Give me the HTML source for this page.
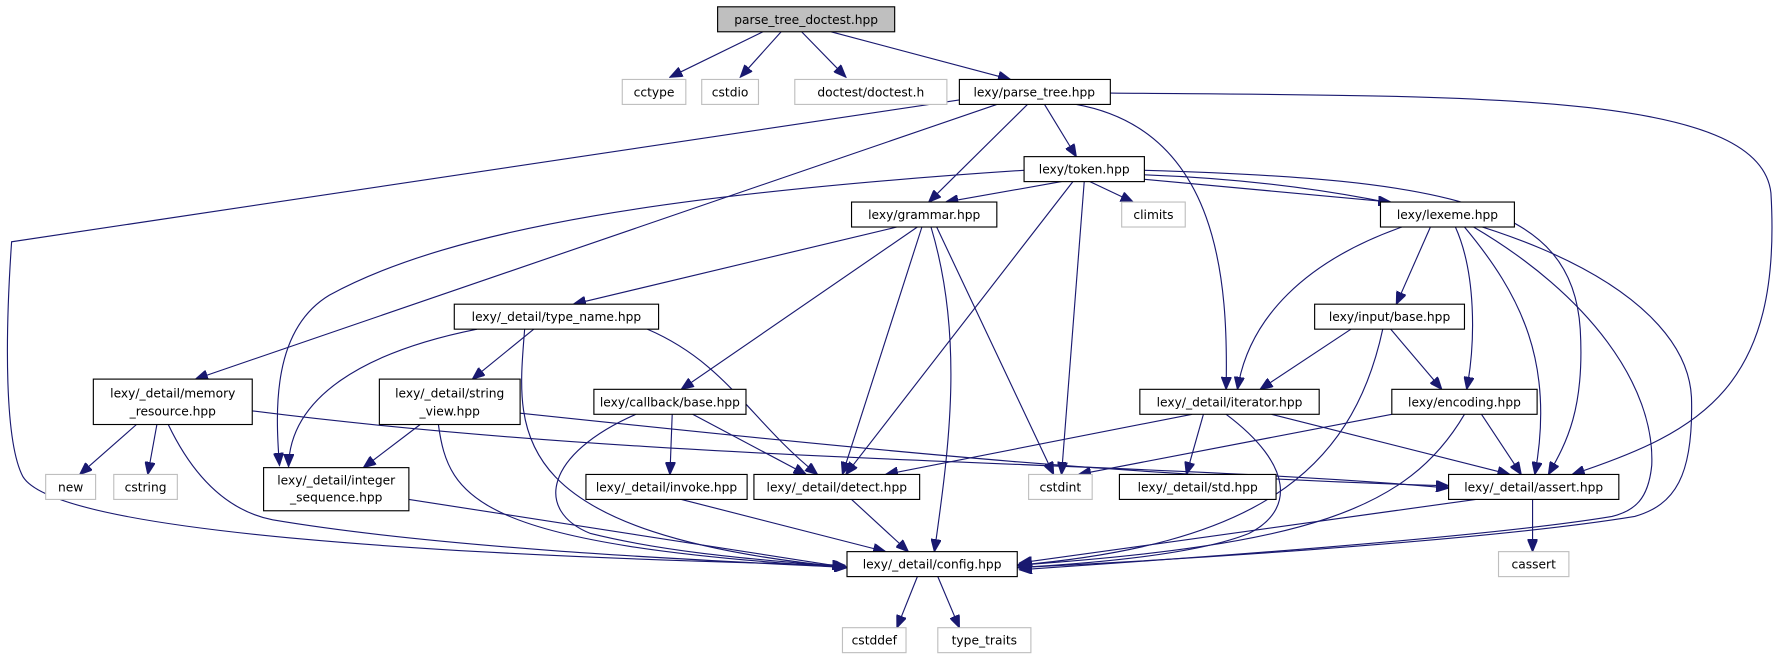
<!DOCTYPE html>
<html><head><meta charset="utf-8"><style>
html,body{margin:0;padding:0;background:#fff;}
svg{display:block;}
text{font-family:"DejaVu Sans","Liberation Sans",sans-serif;font-size:10.8px;fill:#000;text-anchor:middle;}
.n{fill:#fff;stroke:#000;stroke-width:1;}
.g{fill:#fff;stroke:#bfbfbf;stroke-width:1;}
.e{fill:none;stroke:#191970;stroke-width:1;}
</style></head><body>
<svg width="1778" height="664" viewBox="0 0 1566 585" xmlns="http://www.w3.org/2000/svg">
<defs><marker id="a" markerUnits="userSpaceOnUse" markerWidth="12" markerHeight="9" refX="11" refY="4.5" orient="auto"><path d="M0,0 L11,4.5 L0,9 z" fill="#191970" stroke="#191970"/></marker></defs>
<g class="e" marker-end="url(#a)">
<path d="M672,28 L590,68"/>
<path d="M688,28 L652,68"/>
<path d="M706,28 L745,68"/>
<path d="M732,28 L890,70"/>
<path d="M878,92 L172,334"/>
<path d="M845,88 L10,213 C4,300 4,390 20,420 C50,470 400,490 744,498"/>
<path d="M905,92 L818,178"/>
<path d="M920,92 L948,138"/>
<path d="M948,92 C1075,115 1082,250 1080,343"/>
<path d="M978,82 C1300,85 1550,80 1560,170 C1570,340 1500,380 1385,418"/>
<path d="M935,160 L833,178"/>
<path d="M902,150 C600,170 400,200 290,260 C240,290 242,360 246,410"/>
<path d="M945,160 L745,418"/>
<path d="M955,160 L935,418"/>
<path d="M960,160 L998,178"/>
<path d="M1008,158 L1225,178"/>
<path d="M1008,150 C1280,158 1385,180 1392,290 C1396,360 1380,390 1364,418"/>
<path d="M1008,154 C1300,165 1485,250 1490,350 C1492,420 1475,445 1440,455 C1300,478 1000,495 898,500"/>
<path d="M790,200 L505,268"/>
<path d="M808,200 L600,343"/>
<path d="M812,200 L742,418"/>
<path d="M820,200 C850,300 835,400 823,486"/>
<path d="M825,200 L928,418"/>
<path d="M420,290 C320,310 255,350 254,411"/>
<path d="M470,290 L416,334"/>
<path d="M462,290 C455,380 440,470 746,500"/>
<path d="M570,290 C640,320 660,370 720,418"/>
<path d="M120,374 L70,418"/>
<path d="M138,374 L130,418"/>
<path d="M148,374 C170,420 200,450 240,458 C400,485 650,495 746,500"/>
<path d="M222,362 C600,410 1000,405 1276,430"/>
<path d="M370,374 L320,412"/>
<path d="M386,374 C395,440 420,480 746,500"/>
<path d="M458,364 C800,400 1000,420 1276,428"/>
<path d="M592,365 L590,418"/>
<path d="M610,365 L710,418"/>
<path d="M560,365 C480,400 470,450 520,470 C600,490 700,495 746,500"/>
<path d="M360,440 L746,500"/>
<path d="M600,440 L780,486"/>
<path d="M750,440 L800,486"/>
<path d="M1050,365 L780,418"/>
<path d="M1060,365 L1045,418"/>
<path d="M1080,365 C1140,410 1140,450 1100,470 C1050,490 950,497 896,500"/>
<path d="M1120,365 L1330,418"/>
<path d="M1190,290 L1110,343"/>
<path d="M1225,290 L1270,343"/>
<path d="M1218,290 C1190,420 1100,480 896,498"/>
<path d="M1260,200 L1230,268"/>
<path d="M1235,200 C1150,230 1100,280 1090,343"/>
<path d="M1282,200 C1300,240 1300,300 1292,343"/>
<path d="M1290,200 C1340,260 1370,320 1352,418"/>
<path d="M1298,200 C1400,260 1458,340 1455,410 C1452,440 1440,450 1420,455 C1300,475 1000,495 898,502"/>
<path d="M1226,365 L950,418"/>
<path d="M1290,365 C1240,450 1150,480 896,498"/>
<path d="M1305,365 L1340,418"/>
<path d="M1300,440 L898,496"/>
<path d="M1350,440 L1350,486"/>
<path d="M808,508 L790,553"/>
<path d="M826,508 L845,553"/>
</g>
<rect x="632" y="6" width="156" height="22" fill="#bfbfbf" stroke="#000"/><text x="710" y="21">parse_tree_doctest.hpp</text>
<rect class="g" x="548" y="70" width="56" height="22"/><text x="576" y="85">cctype</text>
<rect class="g" x="618" y="70" width="50" height="22"/><text x="643" y="85">cstdio</text>
<rect class="g" x="700" y="70" width="134" height="22"/><text x="767" y="85">doctest/doctest.h</text>
<rect class="n" x="845" y="70" width="133" height="22"/><text x="911" y="85">lexy/parse_tree.hpp</text>
<rect class="n" x="902" y="138" width="106" height="22"/><text x="955" y="153">lexy/token.hpp</text>
<rect class="n" x="750" y="178" width="128" height="22"/><text x="814" y="193">lexy/grammar.hpp</text>
<rect class="g" x="988" y="178" width="56" height="22"/><text x="1016" y="193">climits</text>
<rect class="n" x="1216" y="178" width="118" height="22"/><text x="1275" y="193">lexy/lexeme.hpp</text>
<rect class="n" x="400" y="268" width="180" height="22"/><text x="490" y="283">lexy/_detail/type_name.hpp</text>
<rect class="n" x="1158" y="268" width="132" height="22"/><text x="1224" y="283">lexy/input/base.hpp</text>
<rect class="n" x="82" y="334" width="140" height="40"/><text x="152" y="350">lexy/_detail/memory</text><text x="152" y="366">_resource.hpp</text>
<rect class="n" x="334" y="334" width="124" height="40"/><text x="396" y="350">lexy/_detail/string</text><text x="396" y="366">_view.hpp</text>
<rect class="n" x="523" y="343" width="134" height="22"/><text x="590" y="358">lexy/callback/base.hpp</text>
<rect class="n" x="1004" y="343" width="158" height="22"/><text x="1083" y="358">lexy/_detail/iterator.hpp</text>
<rect class="n" x="1226" y="343" width="128" height="22"/><text x="1290" y="358">lexy/encoding.hpp</text>
<rect class="g" x="40" y="418" width="44" height="22"/><text x="62" y="433">new</text>
<rect class="g" x="100" y="418" width="56" height="22"/><text x="128" y="433">cstring</text>
<rect class="n" x="232" y="412" width="128" height="38"/><text x="296" y="427">lexy/_detail/integer</text><text x="296" y="442">_sequence.hpp</text>
<rect class="n" x="516" y="418" width="142" height="22"/><text x="587" y="433">lexy/_detail/invoke.hpp</text>
<rect class="n" x="664" y="418" width="146" height="22"/><text x="737" y="433">lexy/_detail/detect.hpp</text>
<rect class="g" x="906" y="418" width="56" height="22"/><text x="934" y="433">cstdint</text>
<rect class="n" x="986" y="418" width="138" height="22"/><text x="1055" y="433">lexy/_detail/std.hpp</text>
<rect class="n" x="1276" y="418" width="150" height="22"/><text x="1351" y="433">lexy/_detail/assert.hpp</text>
<rect class="n" x="746" y="486" width="150" height="22"/><text x="821" y="501">lexy/_detail/config.hpp</text>
<rect class="g" x="1320" y="486" width="62" height="22"/><text x="1351" y="501">cassert</text>
<rect class="g" x="742" y="553" width="56" height="22"/><text x="770" y="568">cstddef</text>
<rect class="g" x="826" y="553" width="82" height="22"/><text x="867" y="568">type_traits</text>
</svg>
</body></html>
